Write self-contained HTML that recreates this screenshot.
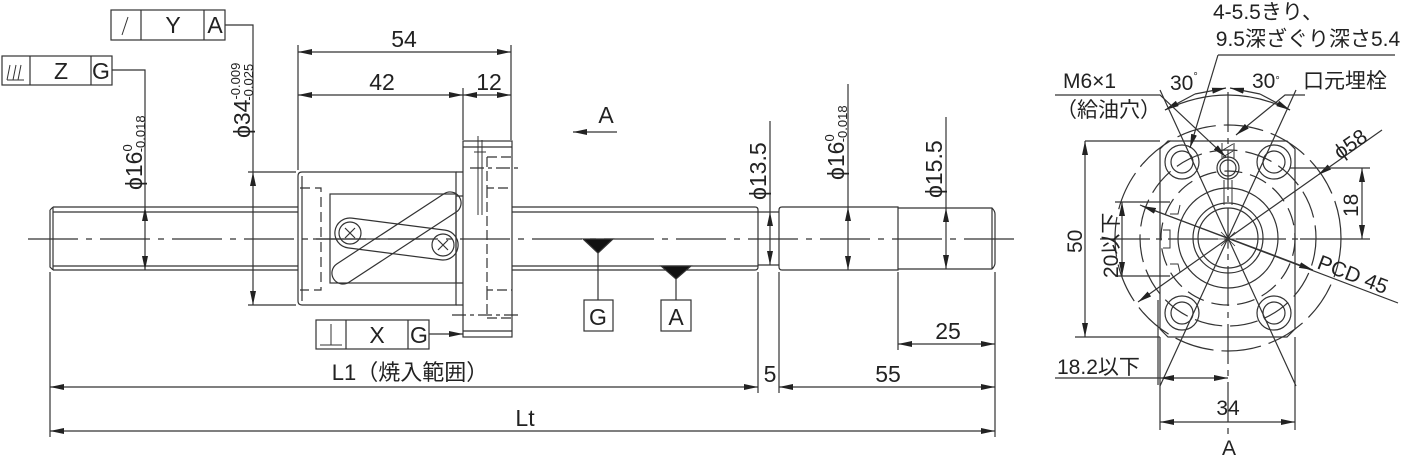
<!DOCTYPE html>
<html><head><meta charset="utf-8"><style>
html,body{margin:0;padding:0;background:#fff}
svg{display:block}
text{font-family:"Liberation Sans","Noto Sans CJK JP",sans-serif;fill:#222}
</style></head><body>
<svg width="1408" height="459" viewBox="0 0 1408 459" xmlns="http://www.w3.org/2000/svg">
<defs>
<marker id="a" viewBox="0 0 14 6" refX="14" refY="3" markerWidth="14" markerHeight="6" orient="auto-start-reverse" markerUnits="userSpaceOnUse"><path d="M0,0L14,3L0,6z" fill="#222"/></marker>
</defs>
<g stroke="#333" stroke-width="1.2" fill="none">
<line x1="28" y1="239" x2="1018" y2="239" stroke-dasharray="50,8,6,8"/>
<path d="M53,207 H298 M53,270 H298 M50,210 V267 L53,270 M50,210 L53,207 M53,212 H298 M53,266 H298"/>
<line x1="53" y1="207" x2="53" y2="270"/>
<path d="M302,172 H456 V305 H302 Q298,305 298,301 V176 Q298,172 302,172Z"/>
<rect x="330" y="194" width="126" height="89"/>
<path d="M302,176 V301"/>
<path d="M300,188 H321 V290 H300" stroke-dasharray="10,5"/>
<path d="M456,172 H463 M456,196 H463 M456,283 H463 M456,305 H463"/>
<rect x="321.5" y="227" width="150" height="22" rx="11" transform="rotate(-33.2 396.5 238)"/>
<rect x="334.5" y="224" width="124" height="30" rx="15" transform="rotate(7.35 396.5 239)"/>
<circle cx="350" cy="233" r="11"/><circle cx="443" cy="245" r="11"/>
<path d="M345,228l10,10M355,228l-10,10M438,240l10,10M448,240l-10,10"/>
<line x1="313" y1="239" x2="420" y2="239"/>
<rect x="463" y="141" width="49" height="196"/>
<path d="M463,147 H512 M463,331 H512"/>
<path d="M487,157 H512 M487,157 V188 H512 M487,188 V290 H512 M487,290 V318 H512" stroke-dasharray="10,4"/>
<path d="M478,136 V215 M482,140 V215 M474,152 H486" stroke-width="1"/>
<path d="M470,168 H518 M452,315 H522" stroke-dasharray="14,4,4,4"/>
<path d="M512,207 H755 Q758,207 758,210 V267 Q758,270 755,270 H512 M512,212 H758 M512,266 H758"/>
<path d="M758,212 H779 M758,265 H779"/>
<path d="M782,207 H898 V270 H782 Q779,270 779,267 V210 Q779,207 782,207Z"/>
<path d="M898,208 H992 Q995,211 995,214 V263 Q995,266 992,269 H898 M992,208 V269"/>
<path d="M112,70 H145 V207"/>
<line x1="145" y1="207" x2="145" y2="270" marker-start="url(#a)" marker-end="url(#a)"/>
<path d="M225,25 H253 V172"/>
<line x1="253" y1="172" x2="253" y2="305" marker-start="url(#a)" marker-end="url(#a)"/>
<path d="M248,172 H296 M248,305 H296"/>
<path d="M298,45 V170 M463,88 V140 M511,45 V140"/>
<line x1="298" y1="52" x2="511" y2="52" marker-start="url(#a)" marker-end="url(#a)"/>
<line x1="298" y1="95" x2="463" y2="95" marker-start="url(#a)" marker-end="url(#a)"/>
<line x1="463" y1="95" x2="511" y2="95" marker-start="url(#a)" marker-end="url(#a)"/>
<line x1="429" y1="334" x2="463" y2="334" marker-end="url(#a)"/>
<rect x="2" y="56" width="110" height="29"/><path d="M30,56V85M91,56V85"/>
<path d="M7,80 L10,65 M13,80 L16,65 M7,80 H24 M18,80 L21,65" stroke-width="1"/>
<rect x="111" y="10" width="114" height="30"/><path d="M141,10V40M204,10V40"/>
<path d="M122,35 L128,17" stroke-width="1"/>
<rect x="316" y="320" width="113" height="29"/><path d="M346,320V349M408,320V349"/>
<path d="M320,345 H342 M331,324 V345" stroke-width="1"/>
<path d="M50,272 V437 M758,272 V393 M779,272 V393 M995,272 V437 M898,272 V350"/>
<line x1="50" y1="387" x2="758" y2="387" marker-start="url(#a)" marker-end="url(#a)"/>
<line x1="779" y1="387" x2="995" y2="387" marker-start="url(#a)" marker-end="url(#a)"/>
<line x1="50" y1="431" x2="995" y2="431" marker-start="url(#a)" marker-end="url(#a)"/>
<line x1="898" y1="344" x2="995" y2="344" marker-start="url(#a)" marker-end="url(#a)"/>
<path d="M770,121 V212"/><line x1="770" y1="212" x2="770" y2="265" marker-start="url(#a)" marker-end="url(#a)"/>
<path d="M848,84 V207"/><line x1="848" y1="207" x2="848" y2="270" marker-start="url(#a)" marker-end="url(#a)"/>
<path d="M946,117 V208"/><line x1="946" y1="208" x2="946" y2="269" marker-start="url(#a)" marker-end="url(#a)"/>
<line x1="617" y1="132" x2="573" y2="132" marker-end="url(#a)"/>
<path d="M583,239 H613 L598,253Z M661,266 H691 L676,279Z" fill="#111"/>
<path d="M598,253 V300 M676,279 V300"/>
<rect x="584" y="300" width="29" height="31"/><rect x="661" y="300" width="30" height="31"/>

<path d="M1168,141 H1287 L1295,149 V329 L1287,337 H1168 L1160,329 V149Z"/>
<line x1="1228" y1="92" x2="1228" y2="440" stroke-dasharray="40,6,6,6"/>
<line x1="1100" y1="239" x2="1300" y2="239" stroke-dasharray="50,6,6,6"/>
<circle cx="1228" cy="238" r="30"/><circle cx="1228" cy="238" r="35"/>
<circle cx="1228" cy="238" r="50"/>
<circle cx="1228" cy="238" r="67" stroke-dasharray="18,8"/>
<circle cx="1228" cy="238" r="88" stroke-dasharray="28,8"/>
<circle cx="1228" cy="238" r="113" stroke-dasharray="40,8"/>
<circle cx="1182" cy="162" r="17"/><circle cx="1182" cy="162" r="11"/>
<circle cx="1274" cy="162" r="17"/><circle cx="1274" cy="162" r="11"/>
<circle cx="1182" cy="313" r="17"/><circle cx="1182" cy="313" r="11"/>
<circle cx="1274" cy="313" r="17"/><circle cx="1274" cy="313" r="11"/>
<circle cx="1228" cy="168" r="11"/><circle cx="1228" cy="168" r="8"/>
<path d="M1222,143 V158 M1234,143 V158 M1223,150 l10,-6 M1223,157 l10,-6 M1224,180 V205 M1232,180 V205" stroke-width="1"/>
<path d="M1160,90 L1296,386 M1296,90 L1160,386"/>
<path d="M1218,239 l20,0 M1228,229 v20 M1221,232 l14,14 M1235,232 l-14,14" stroke-width="0.8"/>
<path d="M1170,214 H1178 L1180,205 M1170,264 H1178 L1180,272 M1160,222 V256 M1163,230 H1170 V248 H1163" stroke-width="1"/>
<path d="M1165,110 Q1228,80 1290,110"/>
<line x1="1195" y1="94" x2="1226" y2="88" marker-end="url(#a)"/>
<line x1="1195" y1="94" x2="1165" y2="110" marker-end="url(#a)"/>
<line x1="1260" y1="94" x2="1230" y2="88" marker-end="url(#a)"/>
<line x1="1260" y1="94" x2="1290" y2="110" marker-end="url(#a)"/>
<path d="M1395,55 H1218"/><line x1="1218" y1="55" x2="1190" y2="148" marker-end="url(#a)"/>
<path d="M1055,95 H1160 L1226,157" marker-end="url(#a)"/>
<path d="M1305,95 H1285 L1236,135" marker-end="url(#a)"/>
<line x1="1382" y1="130" x2="1318" y2="175" marker-end="url(#a)"/>
<line x1="1318" y1="175" x2="1138" y2="302" marker-end="url(#a)"/>
<line x1="1140" y1="205" x2="1398" y2="303"/>
<line x1="1228" y1="238" x2="1142" y2="206" marker-end="url(#a)"/>
<line x1="1228" y1="238" x2="1313" y2="270" marker-end="url(#a)"/>
<path d="M1085,141 H1160 M1075,337 H1160 M1290,168 H1370 M1300,239 H1370 M1115,202 H1170 M1115,276 H1170"/>
<line x1="1085" y1="141" x2="1085" y2="337" marker-start="url(#a)" marker-end="url(#a)"/>
<line x1="1362" y1="168" x2="1362" y2="239" marker-start="url(#a)" marker-end="url(#a)"/>
<line x1="1122" y1="202" x2="1122" y2="276" marker-start="url(#a)" marker-end="url(#a)"/>
<path d="M1160,337 V430 M1295,337 V430 M1158,300 V385 M1055,378 H1160"/>
<line x1="1160" y1="422" x2="1295" y2="422" marker-start="url(#a)" marker-end="url(#a)"/>
<line x1="1160" y1="378" x2="1228" y2="378" marker-start="url(#a)" marker-end="url(#a)"/>
</g>
<g font-size="23">
<text x="61" y="79" text-anchor="middle">Z</text>
<text x="101" y="79" text-anchor="middle">G</text>
<text x="173" y="33" text-anchor="middle">Y</text>
<text x="215" y="33" text-anchor="middle">A</text>
<text x="377" y="343" text-anchor="middle">X</text>
<text x="419" y="343" text-anchor="middle">G</text>
<text x="404" y="47" text-anchor="middle">54</text>
<text x="382" y="90" text-anchor="middle">42</text>
<text x="489" y="90" text-anchor="middle">12</text>
<text x="606" y="123" text-anchor="middle">A</text>
<text x="598" y="325" text-anchor="middle">G</text>
<text x="676" y="325" text-anchor="middle">A</text>
<text x="410" y="380" text-anchor="middle" font-size="22">L1（焼入範囲）</text>
<text x="770" y="382" text-anchor="middle">5</text>
<text x="888" y="382" text-anchor="middle">55</text>
<text x="948" y="339" text-anchor="middle">25</text>
<text x="525" y="426" text-anchor="middle">Lt</text>
<g transform="translate(142,190) rotate(-90)"><text>ϕ16<tspan font-size="13" dy="-10">0</tspan><tspan font-size="13" dx="-8" dy="13">-0.018</tspan></text></g>
<g transform="translate(250,138) rotate(-90)"><text>ϕ34<tspan font-size="13" dy="-10">-0.009</tspan><tspan font-size="13" dx="-38" dy="13">-0.025</tspan></text></g>
<g transform="translate(766,200) rotate(-90)"><text>ϕ13.5</text></g>
<g transform="translate(844,180) rotate(-90)"><text>ϕ16<tspan font-size="13" dy="-10">0</tspan><tspan font-size="13" dx="-8" dy="13">-0.018</tspan></text></g>
<g transform="translate(942,198) rotate(-90)"><text>ϕ15.5</text></g>
<text x="1268" y="19" text-anchor="middle" font-size="21" transform="translate(0,0)">4-5.5きり、</text>
<text x="1308" y="46" text-anchor="middle" font-size="21">9.5深ざぐり深さ5.4</text>
<text x="1063" y="88" font-size="21">M6×1</text>
<text x="1056" y="117" font-size="21">（給油穴）</text>
<text x="1170" y="90" font-size="21">30<tspan font-size="11" dy="-10">°</tspan></text>
<text x="1252" y="88" font-size="21">30<tspan font-size="11" dy="-4">°</tspan></text>
<text x="1303" y="88" font-size="21">口元埋栓</text>
<g transform="translate(1340,160) rotate(-35)"><text font-size="21">ϕ58</text></g>
<g transform="translate(1358,217) rotate(-90)"><text font-size="21">18</text></g>
<g transform="translate(1082,253) rotate(-90)"><text font-size="21">50</text></g>
<g transform="translate(1118,278) rotate(-90)"><text font-size="21">20以下</text></g>
<g transform="translate(1316,268) rotate(21)"><text font-size="21">PCD 45</text></g>
<text x="1057" y="374" font-size="21">18.2以下</text>
<text x="1228" y="415" text-anchor="middle" font-size="21">34</text>
<text x="1229" y="455" text-anchor="middle" font-size="21">A</text>
</g>
</svg>
</body></html>
